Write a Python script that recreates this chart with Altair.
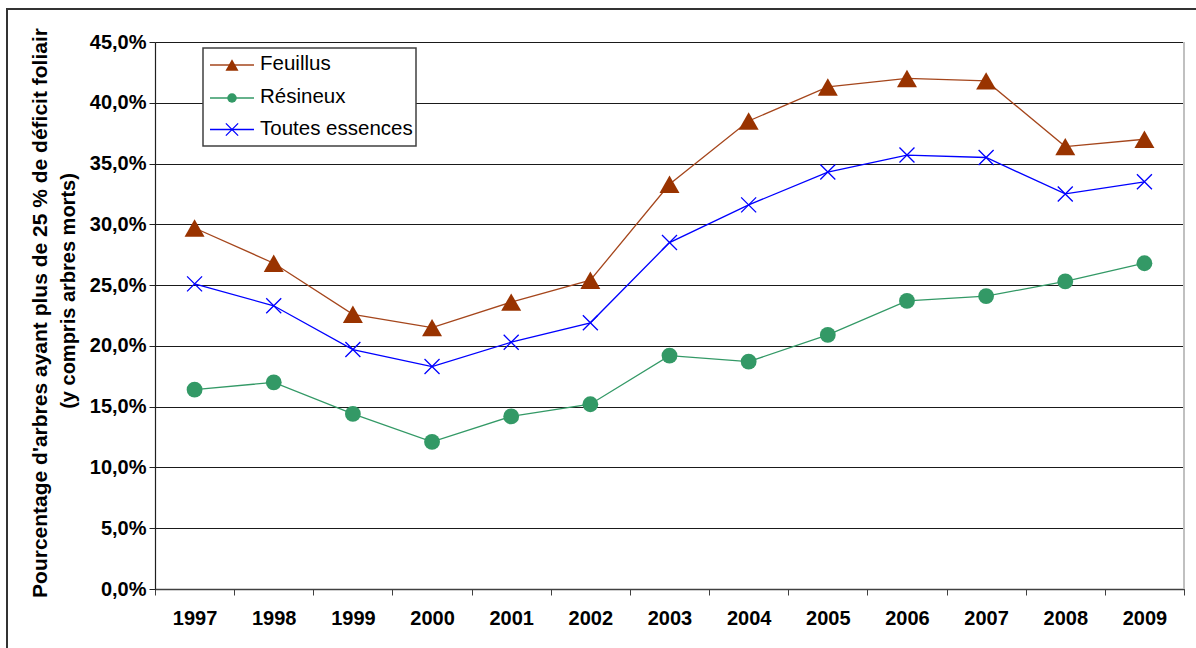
import altair as alt
import pandas as pd

# Pourcentage d'arbres ayant plus de 25 % de déficit foliaire, par année
years = [1997, 1998, 1999, 2000, 2001, 2002, 2003, 2004, 2005, 2006, 2007, 2008, 2009]
feuillus = [29.7, 26.8, 22.6, 21.5, 23.6, 25.4, 33.3, 38.5, 41.3, 42.0, 41.8, 36.4, 37.0]
resineux = [16.4, 17.0, 14.4, 12.1, 14.2, 15.2, 19.2, 18.7, 20.9, 23.7, 24.1, 25.3, 26.8]
toutes = [25.1, 23.3, 19.7, 18.3, 20.3, 21.9, 28.5, 31.6, 34.3, 35.7, 35.5, 32.5, 33.5]

series_names = ["Feuillus", "Résineux", "Toutes essences"]
line_colors = ["#a5461c", "#339966", "#0000ff"]
marker_colors = ["#993300", "#339966", "#0000ff"]
y_ticks = [0, 5, 10, 15, 20, 25, 30, 35, 40, 45]

FONT = "Liberation Sans"
W, H = 1029, 547
X_SHAPE = "M-1,-1L1,1M-1,1L1,-1"

rows = []
for name, vals in zip(series_names, [feuillus, resineux, toutes]):
    for yr, v in zip(years, vals):
        rows.append({"annee": str(yr), "serie": name, "valeur": v})
df = pd.DataFrame(rows)

x_enc = alt.X(
    "annee:O",
    title=None,
    scale=alt.Scale(paddingInner=0, paddingOuter=0),
    axis=alt.Axis(
        labelAngle=0, labelFont=FONT, labelFontSize=20, labelFontWeight="bold",
        labelColor="black", labelPadding=13, tickSize=6, tickBand="extent",
        tickColor="#404040", domainColor="#404040", domainWidth=1.5, grid=False,
    ),
)
y_enc = alt.Y(
    "valeur:Q",
    title=None,
    scale=alt.Scale(domain=[0, 45], nice=False, zero=True),
    axis=alt.Axis(
        values=y_ticks,
        labelExpr="replace(format(datum.value, '.1f'), '.', ',') + '%'",
        labelFont=FONT, labelFontSize=20, labelFontWeight="bold", labelColor="black",
        labelPadding=3, tickSize=6, tickColor="#202020", domainColor="#202020",
        domainWidth=1.2, grid=True, gridColor="#1a1a1a", gridWidth=1,
    ),
)

base = alt.Chart(df).encode(x=x_enc, y=y_enc)

lines = base.mark_line(strokeWidth=1.3).encode(
    color=alt.Color("serie:N", scale=alt.Scale(domain=series_names, range=line_colors), legend=None)
)

pts_feuillus = base.transform_filter(alt.datum.serie == "Feuillus").mark_point(
    shape="triangle-up", size=400, filled=True, color=marker_colors[0], opacity=1
)
pts_resineux = base.transform_filter(alt.datum.serie == "Résineux").mark_point(
    shape="circle", size=250, filled=True, color=marker_colors[1], opacity=1
)
pts_toutes = base.transform_filter(alt.datum.serie == "Toutes essences").mark_point(
    shape=X_SHAPE, size=225, filled=False, color=marker_colors[2], strokeWidth=1.3, opacity=1
)

one = pd.DataFrame({"k": [0]})

# cadre du graphique et bordure droite de la zone de tracé
frame_top = alt.Chart(one).mark_rule(color="#333333", strokeWidth=2).encode(
    x=alt.value(-148), x2=alt.value(1100), y=alt.value(-33)
)
frame_left = alt.Chart(one).mark_rule(color="#333333", strokeWidth=2).encode(
    x=alt.value(-148), y=alt.value(-34), y2=alt.value(700)
)
plot_right = alt.Chart(one).mark_rule(color="#c0c0c0", strokeWidth=2).encode(
    x=alt.value(W), y=alt.value(0), y2=alt.value(H)
)

# légende
legend_box = alt.Chart(one).mark_rect(fill="white", stroke="#404040", strokeWidth=1.5).encode(
    x=alt.value(48), x2=alt.value(261), y=alt.value(6), y2=alt.value(104)
)
legend_rows = [23, 56, 87.5]
legend_layers = [legend_box]
shapes = ["triangle-up", "circle", X_SHAPE]
sizes = [170, 90, 150]
for i, name in enumerate(series_names):
    yy = legend_rows[i]
    legend_layers.append(
        alt.Chart(one).mark_rule(color=line_colors[i], strokeWidth=1.3).encode(
            x=alt.value(55), x2=alt.value(99), y=alt.value(yy)
        )
    )
    legend_layers.append(
        alt.Chart(one).mark_point(
            shape=shapes[i], size=sizes[i], filled=(i < 2), color=marker_colors[i],
            strokeWidth=1.3, opacity=1,
        ).encode(x=alt.value(77), y=alt.value(yy))
    )
    legend_layers.append(
        alt.Chart(one).mark_text(
            align="left", baseline="middle", font=FONT, fontSize=20.5, color="black"
        ).encode(x=alt.value(105), y=alt.value(yy - 1), text=alt.value(name))
    )

# titre de l'axe vertical, sur deux lignes
title1 = alt.Chart(one).mark_text(
    angle=270, align="center", baseline="alphabetic", font=FONT, fontSize=21,
    fontWeight="bold", color="black",
).encode(x=alt.value(-108), y=alt.value(271),
         text=alt.value("Pourcentage d'arbres ayant plus de 25 % de déficit foliair"))
title2 = alt.Chart(one).mark_text(
    angle=270, align="center", baseline="alphabetic", font=FONT, fontSize=20,
    fontWeight="bold", color="black",
).encode(x=alt.value(-80), y=alt.value(249), text=alt.value("(y compris arbres morts)"))

chart = alt.layer(
    lines, pts_feuillus, pts_resineux, pts_toutes,
    plot_right, frame_top, frame_left, *legend_layers, title1, title2,
).properties(
    width=W, height=H,
    padding={"left": 155, "top": 42, "right": 12, "bottom": 59},
    autosize=alt.AutoSizeParams(type="none"),
).configure_view(stroke=None).configure(background="white")

chart.save("out.html", embed_options={"renderer": "svg", "actions": False})
